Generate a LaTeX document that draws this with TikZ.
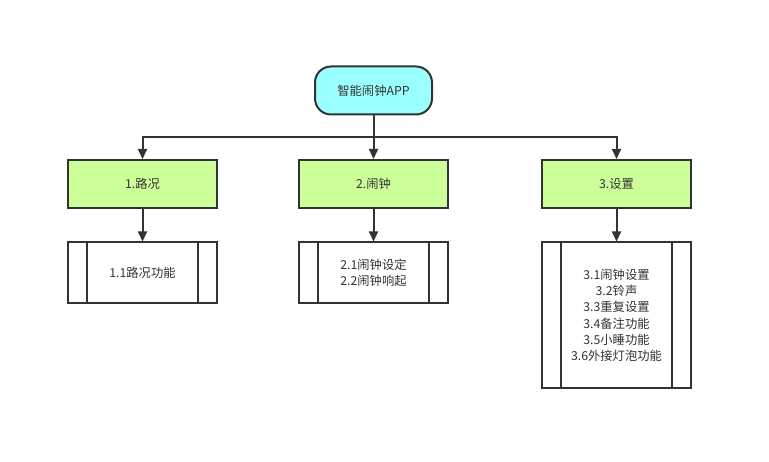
\documentclass[tikz,border=0pt]{standalone}
\usepackage{fontspec}
\setmainfont{Noto Sans CJK SC}
\usetikzlibrary{arrows.meta}
\definecolor{ln}{HTML}{333333}
\definecolor{topfill}{HTML}{99FFFF}
\definecolor{grn}{HTML}{CCFF99}
\begin{document}
\begin{tikzpicture}[x=1pt,y=-1pt,
  every node/.style={font=\fontsize{12.3}{16.3}\selectfont, text=ln},
  topbox/.style={draw=ln, line width=2pt, fill=topfill, rounded corners=16pt, minimum width=117pt, minimum height=48pt, inner sep=0pt},
  lvlbox/.style={draw=ln, line width=2pt, fill=grn, minimum width=149pt, minimum height=48pt, inner sep=0pt},
  subbox/.style={draw=ln, line width=2pt, fill=white, minimum width=149pt, inner sep=0pt, align=center},
  arr/.style={draw=ln, line width=2pt, -{Triangle[length=10pt,width=9pt]}}]
\useasboundingbox (0,0) rectangle (769,462);
\node[topbox] (top) at (373.5,90.5) {智能闹钟APP};
\node[lvlbox] (b1) at (142.5,184) {1.路况};
\node[lvlbox] (b2) at (373.5,184) {2.闹钟};
\node[lvlbox] (b3) at (616.5,184) {3.设置};
\node[subbox, minimum height=61pt] (c1) at (142.5,273) {1.1路况功能};
\node[subbox, minimum height=61pt] (c2) at (373.5,273) {2.1闹钟设定\\2.2闹钟响起};
\node[subbox, minimum height=146pt] (c3) at (616.5,315.5) {3.1闹钟设置\\3.2铃声\\3.3重复设置\\3.4备注功能\\3.5小睡功能\\3.6外接灯泡功能};
\foreach \n in {c1,c2,c3}{
  \draw[ln, line width=2pt] ([xshift=20pt]\n.north west) -- ([xshift=20pt]\n.south west);
  \draw[ln, line width=2pt] ([xshift=-20pt]\n.north east) -- ([xshift=-20pt]\n.south east);
}
\coordinate (bus) at (373.5,137);
\draw[arr] (top.south) -- (bus) -| (b1.north);
\draw[arr] (top.south) -- (b2.north);
\draw[arr] (bus) -| (b3.north);
\draw[arr] (b1.south) -- (c1.north);
\draw[arr] (b2.south) -- (c2.north);
\draw[arr] (b3.south) -- (c3.north);
\end{tikzpicture}
\end{document}
